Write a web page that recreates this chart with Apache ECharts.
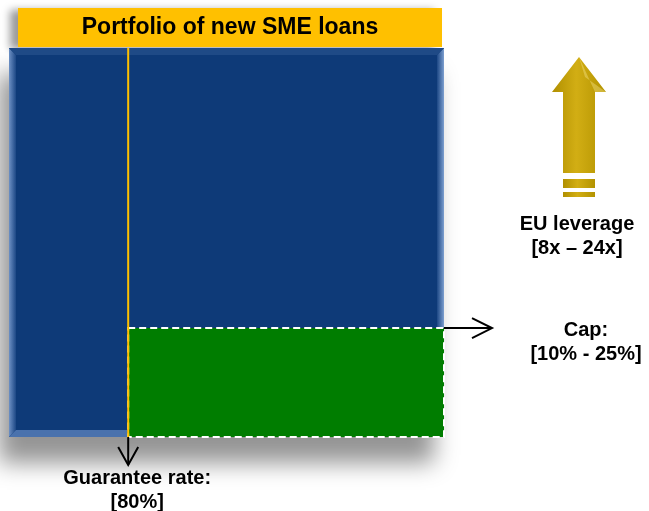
<!DOCTYPE html>
<html lang="en">
<head>
    <meta charset="UTF-8">
    <title>Portfolio of new SME loans</title>
    <script src="https://cdn.jsdelivr.net/npm/echarts@6/dist/echarts.min.js"></script>
    <style>
        html, body { margin: 0; padding: 0; background: #fff; }
        #chart { width: 649px; height: 511px; }
    </style>
</head>
<body>
    <div id="chart"></div>

    <script>
        // portfolio square is 0..100 on both axes
        const guaranteeSplit = [27.4];   // x where the guaranteed part starts
        const capLevel = [28];           // height of the capped (green) slice
        const titleText = ['Portfolio of new SME loans'];
        const noteTexts = ['Guarantee rate:\n[80%]', 'Cap:\n[10% - 25%]', 'EU leverage\n[8x \u2013 24x]'];

        const FONT = 'Liberation Sans, Arial, sans-serif';
        const BLUE = '#0E3A78';

        function arrowHead(x, y, dir){
            // open chevron, dir 'right' or 'down'
            if(dir === 'right'){
                return [[x - 20, y - 10], [x, y], [x - 20, y + 10]];
            }
            return [[x - 10, y - 18], [x, y], [x + 10, y - 18]];
        }

        function renderPortfolio(params, api){
            const tl = api.coord([0, 100]);
            const br = api.coord([100, 0]);
            const gx = api.coord([api.value(0), 0])[0];
            const cy = api.coord([0, api.value(1)])[1];
            const w = br[0] - tl[0];
            const h = br[1] - tl[1];
            const b = 7;
            const children = [];

            // title bar
            children.push({
                type: 'rect',
                shape: {x: tl[0] + 9, y: tl[1] - 40, width: w - 11, height: 39},
                style: {fill: '#FFC000', shadowBlur: 8, shadowOffsetX: -8, shadowOffsetY: 2, shadowColor: 'rgba(0,0,0,0.4)'}
            });
            children.push({
                type: 'text',
                style: {
                    text: titleText[0], x: tl[0] + 9 + (w - 11) / 2, y: tl[1] - 20,
                    align: 'center', verticalAlign: 'middle',
                    font: 'bold 23px ' + FONT, fill: '#000'
                }
            });

            // main box
            children.push({
                type: 'rect',
                shape: {x: tl[0], y: tl[1], width: w, height: h},
                style: {fill: BLUE, shadowBlur: 22, shadowOffsetX: -10, shadowOffsetY: 26, shadowColor: 'rgba(0,0,0,0.42)'}
            });
            // bevels
            children.push({
                type: 'polygon',
                shape: {points: [[tl[0], tl[1]], [tl[0] + b, tl[1] + b], [tl[0] + b, br[1] - b], [tl[0], br[1]]]},
                style: {fill: new echarts.graphic.LinearGradient(0, 0, 1, 0, [
                    {offset: 0, color: '#6d90c4'}, {offset: 1, color: '#1c4785'}])}
            });
            children.push({
                type: 'polygon',
                shape: {points: [[br[0], tl[1]], [br[0] - b, tl[1] + b], [br[0] - b, br[1] - b], [br[0], br[1]]]},
                style: {fill: new echarts.graphic.LinearGradient(0, 0, 1, 0, [
                    {offset: 0, color: '#1c4785'}, {offset: 1, color: '#7d9fcf'}])}
            });
            children.push({
                type: 'polygon',
                shape: {points: [[tl[0], tl[1]], [br[0], tl[1]], [br[0] - b, tl[1] + b], [tl[0] + b, tl[1] + b]]},
                style: {fill: '#1f4a86'}
            });
            children.push({
                type: 'polygon',
                shape: {points: [[tl[0], br[1]], [br[0], br[1]], [br[0] - b, br[1] - b], [tl[0] + b, br[1] - b]]},
                style: {fill: '#4a72ad'}
            });

            // capped slice
            children.push({
                type: 'rect',
                shape: {x: gx, y: cy, width: br[0] - gx, height: br[1] - cy},
                style: {fill: '#007D00', stroke: '#fff', lineWidth: 2, lineDash: [7, 4]}
            });
            // guarantee split line
            children.push({
                type: 'line',
                shape: {x1: gx, y1: tl[1], x2: gx, y2: br[1]},
                style: {stroke: '#FFC000', lineWidth: 2}
            });

            // cap arrow
            const ax = br[0] + 48;
            children.push({type: 'line', shape: {x1: br[0], y1: cy, x2: ax, y2: cy}, style: {stroke: '#000', lineWidth: 2}});
            children.push({type: 'polyline', shape: {points: arrowHead(ax, cy, 'right')}, style: {stroke: '#000', lineWidth: 2, fill: null}});
            // guarantee arrow
            const ay = br[1] + 28;
            children.push({type: 'line', shape: {x1: gx, y1: br[1], x2: gx, y2: ay}, style: {stroke: '#000', lineWidth: 2}});
            children.push({type: 'polyline', shape: {points: arrowHead(gx, ay, 'down')}, style: {stroke: '#000', lineWidth: 2, fill: null}});

            // labels
            const labelStyle = {align: 'center', verticalAlign: 'middle', font: 'bold 20px ' + FONT, fill: '#000', lineHeight: 24};
            children.push({type: 'text', style: Object.assign({text: noteTexts[0], x: gx + 9, y: br[1] + 53}, labelStyle)});
            children.push({type: 'text', style: Object.assign({text: noteTexts[1], x: br[0] + 142, y: cy + 14}, labelStyle)});
            children.push({type: 'text', style: Object.assign({text: noteTexts[2], x: br[0] + 133, y: tl[1] + 188}, labelStyle)});

            // gold leverage arrow
            const cx = br[0] + 135;
            const top = tl[1] + 9;
            const gold = new echarts.graphic.LinearGradient(0, 0, 1, 0, [
                {offset: 0, color: '#B08F00'}, {offset: 0.45, color: '#D2AE14'}, {offset: 1, color: '#B39300'}]);
            children.push({
                type: 'polygon',
                shape: {points: [
                    [cx, top], [cx + 27, top + 35], [cx + 16, top + 35], [cx + 16, top + 116],
                    [cx - 16, top + 116], [cx - 16, top + 35], [cx - 27, top + 35]]},
                style: {fill: gold}
            });
            children.push({
                type: 'polygon',
                shape: {points: [[cx, top], [cx + 6, top + 20], [cx + 27, top + 35], [cx + 16, top + 35]]},
                style: {fill: 'rgba(255,240,160,0.35)'}
            });
            children.push({type: 'rect', shape: {x: cx - 16, y: top + 122, width: 32, height: 9}, style: {fill: gold}});
            children.push({type: 'rect', shape: {x: cx - 16, y: top + 135, width: 32, height: 5}, style: {fill: gold}});

            return {type: 'group', children: children};
        }

        const chart = echarts.init(document.getElementById('chart'));
        const option = {
            animation: false,
            grid: {left: 9, top: 48, width: 435, height: 389},
            xAxis: {type: 'value', min: 0, max: 100, show: false},
            yAxis: {type: 'value', min: 0, max: 100, show: false},
            series: [
                {
                    type: 'custom',
                    clip: false,
                    renderItem: renderPortfolio,
                    data: [[guaranteeSplit[0], capLevel[0]]]
                }
            ]
        };
        chart.setOption(option);
    </script>
</body>
</html>
